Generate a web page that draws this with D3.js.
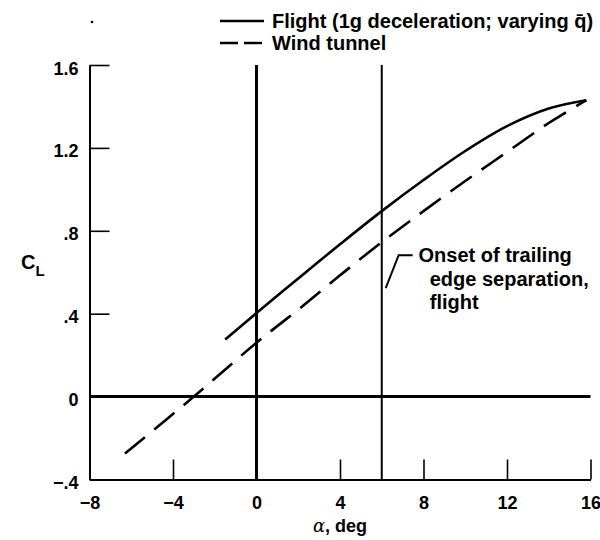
<!DOCTYPE html>
<html lang="en">
<head>
    <meta charset="UTF-8">
    <title>CL vs alpha</title>
    <script src="https://d3js.org/d3.v7.min.js"></script>
    <style>
        body { margin: 0; background: #fff; }
        text { font-family: "Liberation Sans", Arial, sans-serif; font-weight: bold; fill: #000; }
    </style>
</head>
<body>
    <script>
        // flight curve (1g deceleration)
        const alphaFlight = [-1.5, 0, 2, 4, 6, 8, 10, 12, 14, 15.8];
        const clFlight = [0.275, 0.403, 0.57, 0.735, 0.895, 1.045, 1.185, 1.305, 1.39, 1.43];
        // wind tunnel curve
        const alphaTunnel = [-6.3, -3, 0, 2, 4, 6, 8, 10, 12, 14, 15.8];
        const clTunnel = [-0.275, 0, 0.26, 0.42, 0.585, 0.745, 0.895, 1.04, 1.18, 1.32, 1.43];

        const xTicks = [-8, -4, 0, 4, 8, 12, 16];
        const yTicks = [-0.4, 0, 0.4, 0.8, 1.2, 1.6];
        const yTickLabels = ["\u2212.4", "0", ".4", ".8", "1.2", "1.6"];
        const refAlpha = [0, 6];
        const noteLines = ["Onset of trailing", "edge separation,", "flight"];
        const legendLabels = ["Flight (1g deceleration; varying q\u0304)", "Wind tunnel"];

        const width = 600, height = 540;
        const margin = { top: 65, right: 9.5, bottom: 60.5, left: 89.5 };

        const svg = d3.select("body").append("svg")
            .attr("width", width)
            .attr("height", height);

        const x = d3.scaleLinear().domain([-8, 16]).range([margin.left, width - margin.right]);
        const y = d3.scaleLinear().domain([-0.4, 1.6]).range([height - margin.bottom, margin.top]);

        // axes, ticks pointing inward
        const yAxis = svg.append("g")
            .attr("transform", `translate(${margin.left},0)`)
            .call(d3.axisLeft(y).tickValues(yTicks).tickSizeInner(-20).tickSizeOuter(0).tickPadding(11)
                .tickFormat((d, i) => yTickLabels[i]));

        const xAxis = svg.append("g")
            .attr("transform", `translate(0,${height - margin.bottom})`)
            .call(d3.axisBottom(x).tickValues(xTicks).tickSizeInner(-20).tickSizeOuter(0).tickPadding(17)
                .tickFormat(d => d < 0 ? "\u2212" + Math.abs(d) : d));

        [yAxis, xAxis].forEach(g => {
            g.attr("font-family", null).attr("font-size", null);
            g.select(".domain").attr("stroke-width", 2);
            g.selectAll(".tick line").attr("stroke-width", 1.6);
            g.selectAll(".tick text").style("font-size", "18px");
        });
        yAxis.selectAll(".tick text").attr("dy", "0.5em");

        // reference lines
        svg.append("line")
            .attr("x1", x(-8)).attr("x2", x(16))
            .attr("y1", y(0)).attr("y2", y(0))
            .attr("stroke", "#000").attr("stroke-width", 3);

        svg.selectAll(".ref")
            .data(refAlpha)
            .enter().append("line")
            .attr("x1", d => x(d)).attr("x2", d => x(d))
            .attr("y1", y(1.6)).attr("y2", y(-0.4))
            .attr("stroke", "#000")
            .attr("stroke-width", d => d === 0 ? 3 : 2);

        const line = d3.line()
            .x(d => x(d[0]))
            .y(d => y(d[1]))
            .curve(d3.curveCatmullRom.alpha(0.5));

        svg.append("path")
            .datum(alphaFlight.map((a, i) => [a, clFlight[i]]))
            .attr("d", line)
            .attr("fill", "none")
            .attr("stroke", "#000")
            .attr("stroke-width", 2.6);

        svg.append("path")
            .datum(alphaTunnel.map((a, i) => [a, clTunnel[i]]))
            .attr("d", line)
            .attr("fill", "none")
            .attr("stroke", "#000")
            .attr("stroke-width", 2.6)
            .attr("stroke-dasharray", "26,12");

        // annotation leader
        svg.append("path")
            .attr("d", d3.line()([[x(6.19), y(0.523)], [x(6.81), y(0.682)], [x(7.48), y(0.682)]]))
            .attr("fill", "none")
            .attr("stroke", "#000")
            .attr("stroke-width", 2);

        svg.append("g").selectAll("text")
            .data(noteLines)
            .enter().append("text")
            .attr("x", (d, i) => i === 0 ? x(7.76) : x(8.3))
            .attr("y", (d, i) => 262 + i * 23.5)
            .style("font-size", "20px")
            .text(d => d);

        // legend
        const legend = svg.append("g");
        legend.append("line")
            .attr("x1", 220).attr("x2", 264).attr("y1", 21).attr("y2", 21)
            .attr("stroke", "#000").attr("stroke-width", 2.4);
        legend.append("line")
            .attr("x1", 220).attr("x2", 264).attr("y1", 43).attr("y2", 43)
            .attr("stroke", "#000").attr("stroke-width", 2.4)
            .attr("stroke-dasharray", "18,6");
        legend.selectAll("text")
            .data(legendLabels)
            .enter().append("text")
            .attr("x", 272)
            .attr("y", (d, i) => 28 + i * 22)
            .style("font-size", "20px")
            .text(d => d);

        // axis titles
        const cl = svg.append("text")
            .attr("x", 21).attr("y", 269)
            .style("font-size", "20px");
        cl.append("tspan").text("C");
        cl.append("tspan").attr("dy", 7).style("font-size", "15px").text("L");

        const xt = svg.append("text")
            .attr("x", x(4)).attr("y", 532)
            .attr("text-anchor", "middle")
            .style("font-size", "18px");
        xt.append("tspan").style("font-family", "'DejaVu Serif', serif").style("font-style", "italic").style("font-weight", "normal").text("\u03b1");
        xt.append("tspan").text(", deg");

        // speck in the scan
        svg.append("circle").attr("cx", 92).attr("cy", 22).attr("r", 1.3).attr("fill", "#000");
    </script>
</body>
</html>
